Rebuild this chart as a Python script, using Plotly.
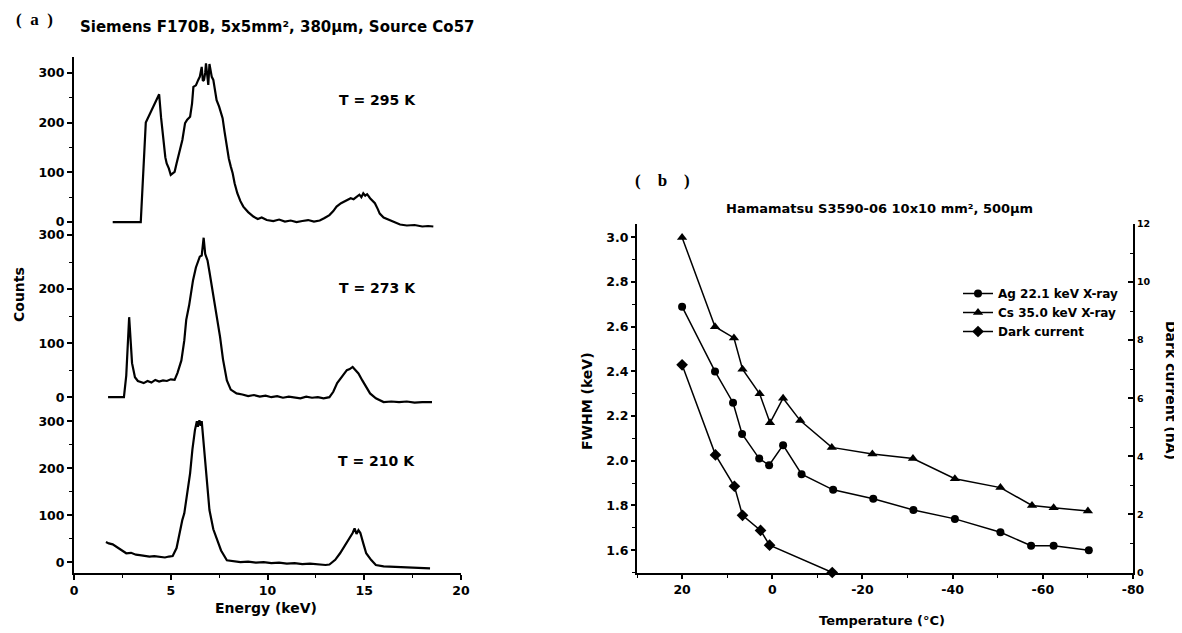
import plotly.graph_objects as go

# ---------------- Panel (a) data: Co57 spectra (energy keV, counts) ----------------
e_295 = [2.0, 3.45, 3.71, 3.9, 4.1, 4.4, 4.5, 4.62, 4.72, 4.79, 4.9, 5.0, 5.1, 5.2, 5.3, 5.48, 5.6, 5.74, 5.85,
         6.0, 6.1, 6.17, 6.3, 6.42, 6.5, 6.6, 6.66, 6.72, 6.78, 6.82, 6.88, 6.94, 7.0, 7.06, 7.12, 7.2, 7.28,
         7.37, 7.5, 7.6, 7.68, 7.78, 7.89, 8.0, 8.1, 8.2, 8.3, 8.44, 8.6, 8.75, 9.0, 9.27, 9.5, 9.7, 9.96,
         10.3, 10.6, 10.9, 11.2, 11.5, 11.8, 12.1, 12.4, 12.7, 12.95, 13.2, 13.4, 13.57, 13.8, 13.95, 14.1,
         14.3, 14.45, 14.6, 14.75, 14.85, 14.95, 15.05, 15.15, 15.3, 15.45, 15.55, 15.7, 15.8, 16.0, 16.3,
         16.55, 16.85, 17.2, 17.6, 18.0, 18.3, 18.57]
c_295 = [0, 0, 200, 215, 232, 257, 210, 158, 130, 118, 108, 95, 98, 101, 118, 145, 165, 199, 206,
         212, 238, 272, 275, 286, 292, 312, 284, 286, 300, 319, 290, 276, 318, 306, 292, 286, 268,
         245, 232, 218, 209, 182, 151, 128, 112, 98, 78, 58, 42, 31, 20, 11, 6, 9, 4,
         2, 5, 1, 3, 0, 2, 4, 1, 3, 8, 14, 22, 31, 38, 41, 44,
         48, 46, 51, 55, 50, 58, 53, 56, 48, 42, 38, 26, 17, 9, 4,
         -1, -5, -7, -6, -9, -8, -9]

e_273 = [1.76, 2.58, 2.7, 2.8, 2.85, 2.9, 3.0, 3.15, 3.3, 3.45, 3.6, 3.8, 4.0, 4.2, 4.4, 4.6, 4.8, 5.0, 5.2,
         5.35, 5.55, 5.7, 5.8, 5.95, 6.05, 6.15, 6.3, 6.5, 6.6, 6.7, 6.78, 6.9, 7.0, 7.1, 7.3, 7.42, 7.55,
         7.7, 7.9, 8.1, 8.4, 8.7, 9.0, 9.3, 9.6, 9.9, 10.2, 10.5, 10.8, 11.1, 11.4, 11.7, 12.0, 12.3, 12.6,
         12.9, 13.2, 13.4, 13.6, 13.85, 14.1, 14.25, 14.4, 14.55, 14.7, 14.9, 15.1, 15.3, 15.6, 16.0, 16.4,
         16.8, 17.2, 17.6, 18.0, 18.5]
c_273 = [0, 0, 40, 110, 148, 120, 63, 37, 30, 28, 26, 30, 27, 32, 29, 31, 30, 33, 32,
         45, 68, 105, 143, 170, 195, 216, 240, 260, 262, 295, 265, 253, 232, 210, 174, 140, 111,
         70, 31, 14, 7, 5, 2, 4, 1, 3, 0, 2, -1, 1, 0, -2, 1, -1, 0,
         -2, 0, 10, 26, 38, 50, 52, 56, 50, 44, 31, 18, 7, -2, -9, -8,
         -9, -8, -10, -9, -9]

e_210 = [1.65, 1.8, 2.0, 2.2, 2.45, 2.7, 2.95, 3.2, 3.4, 3.65, 3.9, 4.15, 4.45, 4.7, 4.9, 5.1, 5.3, 5.45,
         5.6, 5.7, 5.85, 6.0, 6.12, 6.25, 6.35, 6.4, 6.48, 6.55, 6.6, 6.68, 6.75, 6.88, 7.0, 7.2, 7.4, 7.6,
         7.9, 8.2, 8.6, 9.0, 9.4, 9.8, 10.2, 10.6, 11.0, 11.4, 11.8, 12.2, 12.6, 13.0, 13.2, 13.5, 13.75,
         14.0, 14.25, 14.4, 14.5, 14.6, 14.7, 14.8, 14.95, 15.1, 15.35, 15.6, 16.0, 16.5, 17.0, 17.5,
         18.0, 18.4]
c_210 = [43, 40, 38, 33, 27, 19, 20, 16, 15, 14, 12, 13, 11, 10, 12, 13, 30, 61,
         90, 104, 150, 189, 240, 281, 300, 288, 302, 290, 300, 260, 217, 160, 111, 70, 47, 25,
         4, 2, 0, 1, -1, 0, -2, -1, -3, -2, -4, -3, -5, -6, -5, 5, 19,
         35, 53, 62, 72, 60, 68, 62, 40, 19, 5, -6, -9, -10, -11, -12,
         -12, -13]

# ---------------- Panel (b) data ----------------
temp_ag = [20, 12.7, 8.7, 6.7, 2.9, 0.7, -2.4, -6.5, -13.5, -22.4, -31.3, -40.5, -50.6, -57.4, -62.4, -70.2]
fwhm_ag = [2.69, 2.40, 2.26, 2.12, 2.01, 1.98, 2.07, 1.94, 1.87, 1.83, 1.78, 1.74, 1.68, 1.62, 1.62, 1.60]
temp_cs = [20, 12.7, 8.5, 6.6, 2.8, 0.5, -2.4, -6.2, -13.2, -22.2, -31.2, -40.5, -50.6, -57.6, -62.4, -70.0]
fwhm_cs = [3.00, 2.60, 2.55, 2.41, 2.30, 2.17, 2.28, 2.18, 2.06, 2.03, 2.01, 1.92, 1.88, 1.80, 1.79, 1.775]
temp_dark = [20, 12.6, 8.4, 6.6, 2.6, 0.6, -13.3]
dark_nA = [7.15, 4.05, 2.97, 1.97, 1.45, 0.94, 0.0]

temp_ticks = [20, 0, -20, -40, -60, -80]
temp_ticktext = ["20", "0", "-20", "-40", "-60", "-80"]

# The page body has an 8px margin, so the figure starts 8px in; positions below are window pixels.
OFF = 8
W, H = 1182, 633
def fx(px): return (px - OFF) / W
def fy(py): return 1 - (py - OFF) / H

FONT = "DejaVu Sans, Liberation Sans, Arial, sans-serif"
SERIF = "Liberation Serif, Times New Roman, serif"
BLK = "black"

fig = go.Figure()
line_a = dict(color=BLK, width=2.2)
fig.add_trace(go.Scatter(x=e_210, y=c_210, mode="lines", line=line_a, xaxis="x", yaxis="y", showlegend=False))
fig.add_trace(go.Scatter(x=e_273, y=c_273, mode="lines", line=line_a, xaxis="x", yaxis="y2", showlegend=False))
fig.add_trace(go.Scatter(x=e_295, y=c_295, mode="lines", line=line_a, xaxis="x", yaxis="y3", showlegend=False))

line_b = dict(color=BLK, width=1.5)
fig.add_trace(go.Scatter(x=temp_ag, y=fwhm_ag, mode="lines+markers", name="Ag 22.1 keV X-ray",
                         line=line_b, marker=dict(symbol="circle", size=8, color=BLK),
                         xaxis="x2", yaxis="y4", cliponaxis=False))
fig.add_trace(go.Scatter(x=temp_cs, y=fwhm_cs, mode="lines+markers", name="Cs 35.0 keV X-ray",
                         line=line_b, marker=dict(symbol="triangle-up", size=9, color=BLK),
                         xaxis="x2", yaxis="y4", cliponaxis=False))
fig.add_trace(go.Scatter(x=temp_dark, y=dark_nA, mode="lines+markers", name="Dark current",
                         line=line_b, marker=dict(symbol="diamond", size=9, color=BLK),
                         xaxis="x2", yaxis="y5", cliponaxis=False))

tickfont_a = dict(family=FONT, size=12.5, color=BLK, weight="bold")
tickfont_b = dict(family=FONT, size=12.5, color=BLK, weight="bold")
tickfont_r = dict(family=FONT, size=9.5, color=BLK, weight="bold")

ya_common = dict(showline=True, linecolor=BLK, linewidth=2, ticks="outside", ticklen=5, tickwidth=1.5,
                 tickcolor=BLK, tickvals=[0, 100, 200, 300], tickfont=tickfont_a, showgrid=False,
                 zeroline=False, anchor="x", automargin=False,
                 minor=dict(ticks="outside", ticklen=3, tickwidth=1, tickcolor=BLK, dtick=50, showgrid=False))

fig.update_layout(
    width=W, height=H, margin=dict(l=0, r=0, t=0, b=0, pad=0),
    paper_bgcolor="white", plot_bgcolor="rgba(0,0,0,0)",
    xaxis=dict(domain=[fx(74), fx(461)], range=[0, 20], anchor="y", showline=True, linecolor=BLK,
               linewidth=2, ticks="outside", ticklen=5, tickwidth=1.5, tickcolor=BLK, automargin=False,
               tickvals=[0, 5, 10, 15, 20], tickfont=tickfont_a, showgrid=False, zeroline=False,
               minor=dict(ticks="outside", ticklen=3, tickwidth=1, tickcolor=BLK, dtick=2.5, showgrid=False)),
    yaxis=dict(domain=[fy(573), fy(408)], range=[-23, 328], **ya_common),
    yaxis2=dict(domain=[fy(408), fy(228)], range=[-20, 313], **ya_common),
    yaxis3=dict(domain=[fy(228), fy(57)], range=[-12, 332], **ya_common),
    xaxis2=dict(domain=[fx(637), fx(1133)], range=[30, -80], anchor="y4", showline=True, linecolor=BLK,
                linewidth=2, ticks="outside", ticklen=4, tickwidth=1.5, tickcolor=BLK, automargin=False,
                tickvals=temp_ticks, ticktext=temp_ticktext, tickfont=tickfont_b, showgrid=False,
                zeroline=False,
                minor=dict(ticks="outside", ticklen=3, tickwidth=1, tickcolor=BLK, dtick=10, showgrid=False)),
    yaxis4=dict(domain=[fy(572.5), fy(224)], range=[1.5, 3.06], anchor="x2", showline=True, linecolor=BLK,
                linewidth=2, ticks="outside", ticklen=4, tickwidth=1.5, tickcolor=BLK, automargin=False,
                tickvals=[1.6, 1.8, 2.0, 2.2, 2.4, 2.6, 2.8, 3.0], tickformat=".1f",
                tickfont=tickfont_b, showgrid=False, zeroline=False,
                minor=dict(ticks="outside", ticklen=3, tickwidth=1, tickcolor=BLK, dtick=0.1, showgrid=False)),
    yaxis5=dict(domain=[fy(572.5), fy(224)], range=[0, 12], anchor="x2", overlaying="y4", side="right",
                showline=True, linecolor=BLK, linewidth=2, ticks="inside", ticklen=5, tickwidth=1.5,
                tickcolor=BLK, tickvals=[0, 2, 4, 6, 8, 10, 12], tickfont=tickfont_r, showgrid=False,
                zeroline=False, automargin=False,
                minor=dict(ticks="inside", ticklen=3, tickwidth=1, tickcolor=BLK, dtick=1, showgrid=False)),
    legend=dict(x=fx(958), y=fy(279), xanchor="left", yanchor="top", bgcolor="rgba(0,0,0,0)",
                font=dict(family=FONT, size=12, color=BLK, weight="bold"), itemwidth=30,
                tracegroupgap=0),
)

def ann(text, x, y, size=13, angle=0, family=FONT, weight="bold", xanchor="center"):
    fig.add_annotation(text=text, x=fx(x), y=fy(y), xref="paper", yref="paper", showarrow=False,
                       textangle=angle, xanchor=xanchor, yanchor="middle",
                       font=dict(family=family, size=size, color=BLK, weight=weight))

ann("(\u2002a\u2002)", 34, 19, size=17, family=SERIF)
ann("Siemens F170B, 5x5mm², 380µm, Source Co57", 277, 27, size=15)
ann("T = 295 K", 377, 100, size=14)
ann("T = 273 K", 377, 288, size=14)
ann("T = 210 K", 376, 461, size=14)
ann("Counts", 19, 295, size=14, angle=-90)
ann("Energy (keV)", 266, 608, size=14)
ann("(\u2003b\u2003)", 662, 180, size=17, family=SERIF)
ann("Hamamatsu S3590-06 10x10 mm², 500µm", 879, 208, size=13)
ann("Temperature (°C)", 882, 620, size=13)
ann("FWHM (keV)", 587, 401, size=14, angle=-90)
ann("Dark current (nA)", 1171, 390, size=14, angle=90)

fig.write_html("out.html")
